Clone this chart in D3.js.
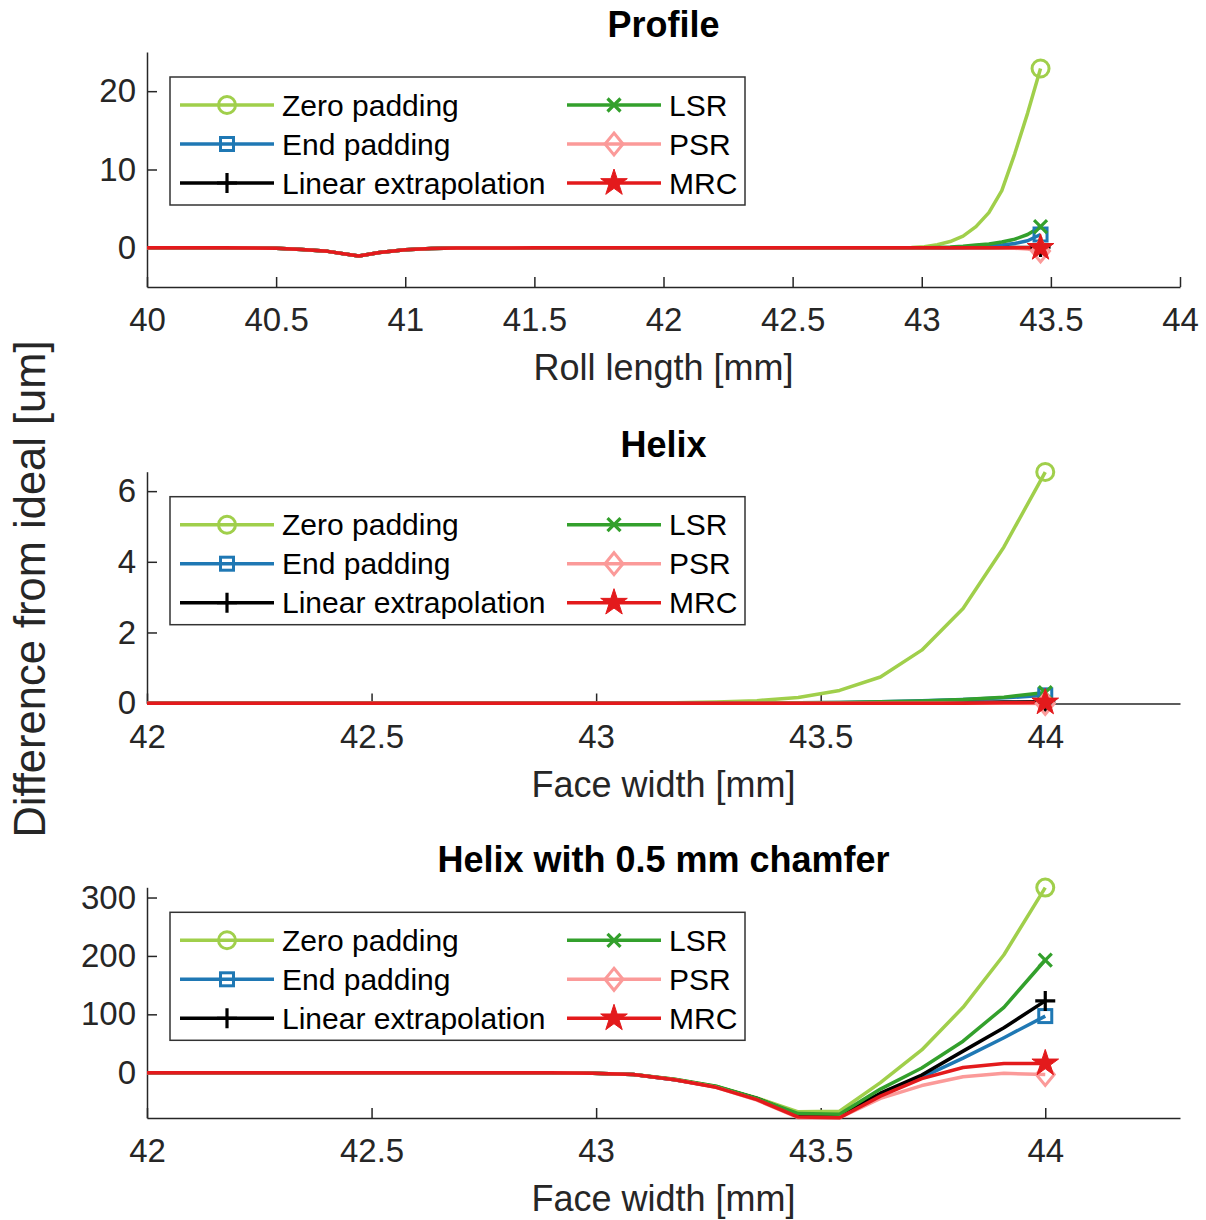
<!DOCTYPE html>
<html>
<head>
<meta charset="utf-8">
<script src="https://cdn.jsdelivr.net/npm/d3@7"></script>
<style>
  body { margin: 0; background: #fff; }
  svg { font-family: "Liberation Sans", Arial, Helvetica, sans-serif; }
</style>
</head>
<body>
<svg id="chart" width="1206" height="1220"></svg>
<script>
var seriesNames = ["Zero padding", "End padding", "Linear extrapolation", "LSR", "PSR", "MRC"];
var seriesColors = ["#a0cf4b", "#1f78b4", "#000000", "#33a02c", "#fb9a99", "#e31a1c"];
var seriesMarkers = ["circle", "square", "plus", "cross", "diamond", "star"];

// Profile, roll length [mm]
var profileX = [40, 40.3, 40.5, 40.6, 40.7, 40.82, 40.9, 41, 41.1, 41.2, 41.5, 42, 42.5,
  42.96, 43.01, 43.06, 43.11, 43.16, 43.21, 43.26, 43.31, 43.36, 43.41, 43.46];
var profileZero = [0, 0, -0.05, -0.2, -0.45, -1.05, -0.6, -0.25, -0.1, -0.02, 0, 0, 0,
  0.05, 0.15, 0.4, 0.8, 1.5, 2.7, 4.5, 7.3, 12.0, 17.2, 22.9];
var profileEnd = [0, 0, -0.05, -0.2, -0.45, -1.05, -0.6, -0.25, -0.1, -0.02, 0, 0, 0,
  0, 0, 0.01, 0.02, 0.05, 0.1, 0.2, 0.35, 0.55, 0.9, 1.7];
var profileLinear = [0, 0, -0.05, -0.2, -0.45, -1.05, -0.6, -0.25, -0.1, -0.02, 0, 0, 0,
  0, 0, 0, 0, 0, 0, 0.01, 0.02, 0.03, 0.05, 0.1];
var profileLSR = [0, 0, -0.05, -0.2, -0.45, -1.05, -0.6, -0.25, -0.1, -0.02, 0, 0, 0,
  0, 0.02, 0.05, 0.1, 0.2, 0.35, 0.5, 0.75, 1.1, 1.7, 2.7];
var profilePSR = [0, 0, -0.05, -0.2, -0.45, -1.05, -0.6, -0.25, -0.1, -0.02, 0, 0, 0,
  0, 0, 0, 0, 0, 0, 0, -0.02, -0.05, -0.15, -0.4];
var profileMRC = [0, 0, -0.05, -0.2, -0.45, -1.05, -0.6, -0.25, -0.1, -0.02, 0, 0, 0,
  0, 0, 0, 0, 0, 0, 0, 0, 0, 0, 0];

// Helix, face width [mm]
var helixX = [42, 42.5, 42.9, 42.992, 43.083, 43.175, 43.267, 43.358, 43.45, 43.542,
  43.633, 43.725, 43.817, 43.908, 44];
var helixZero = [0, 0, 0, 0, 0, 0.01, 0.03, 0.07, 0.16, 0.36, 0.74, 1.5, 2.68, 4.42, 6.54];
var helixEnd = [0, 0, 0, 0, 0, 0, 0, 0, 0.01, 0.02, 0.04, 0.07, 0.1, 0.15, 0.22];
var helixLinear = [0, 0, 0, 0, 0, 0, 0, 0, 0, 0, 0.01, 0.01, 0.02, 0.03, 0.04];
var helixLSR = [0, 0, 0, 0, 0, 0, 0, 0.01, 0.01, 0.02, 0.04, 0.06, 0.1, 0.17, 0.3];
var helixPSR = [0, 0, 0, 0, 0, 0, 0, 0, 0, 0, 0, 0, 0, 0, -0.01];
var helixMRC = [0, 0, 0, 0, 0, 0, 0, 0, 0, 0, 0, 0, 0, 0.01, 0.02];

// Helix with 0.5 mm chamfer, face width [mm]
var chamferX = [42, 42.5, 42.9, 42.992, 43.083, 43.175, 43.267, 43.358, 43.45, 43.542,
  43.633, 43.725, 43.817, 43.908, 44];
var chamferZero = [0, 0, 0, -1, -3, -11, -23, -43, -67, -66, -17, 39, 112, 202, 317];
var chamferEnd = [0, 0, 0, -1, -3, -12, -24, -44, -73, -73, -38, -8, 25, 60, 97];
var chamferLinear = [0, 0, 0, -1, -3, -12, -24, -44, -72, -73, -35, -4, 37, 77, 123];
var chamferLSR = [0, 0, 0, -1, -3, -11, -23, -44, -70, -71, -28, 8, 54, 112, 193];
var chamferPSR = [0, 0, 0, -1, -3, -12, -25, -47, -77, -77, -44, -22, -7, -1, -3];
var chamferMRC = [0, 0, 0, -1, -3, -12, -25, -46, -76, -77, -40, -10, 9, 16, 16];

// Tick labels
var profileTicksX = [40, 40.5, 41, 41.5, 42, 42.5, 43, 43.5, 44];
var profileTicksY = [0, 10, 20];
var helixTicksX = [42, 42.5, 43, 43.5, 44];
var helixTicksY = [0, 2, 4, 6];
var chamferTicksY = [0, 100, 200, 300];

var margin = { left: 147, right: 1180 };
var axisColor = "#262626";
var lineWidth = 3.5;

var panels = [
  { title: "Profile", xLabel: "Roll length [mm]", top: 52, bottom: 287,
    xDomain: [40, 44], yDomain: [-5, 25], xTicks: profileTicksX, yTicks: profileTicksY,
    x: profileX, series: [profileZero, profileEnd, profileLinear, profileLSR, profilePSR, profileMRC] },
  { title: "Helix", xLabel: "Face width [mm]", top: 471.7, bottom: 703.5,
    xDomain: [42, 44.3], yDomain: [-0.01, 6.55], xTicks: helixTicksX, yTicks: helixTicksY,
    x: helixX, series: [helixZero, helixEnd, helixLinear, helixLSR, helixPSR, helixMRC] },
  { title: "Helix with 0.5 mm chamfer", xLabel: "Face width [mm]", top: 887.3, bottom: 1118,
    xDomain: [42, 44.3], yDomain: [-77.5, 317.5], xTicks: helixTicksX, yTicks: chamferTicksY,
    x: chamferX, series: [chamferZero, chamferEnd, chamferLinear, chamferLSR, chamferPSR, chamferMRC] }
];

var svg = d3.select("#chart");

function starPath(r) {
  var pts = [];
  for (var i = 0; i < 10; i++) {
    var rr = i % 2 === 0 ? r : r * 0.382;
    var a = -Math.PI / 2 + i * Math.PI / 5;
    pts.push([rr * Math.cos(a), rr * Math.sin(a)]);
  }
  return "M" + pts.map(function (p) { return p[0].toFixed(2) + "," + p[1].toFixed(2); }).join("L") + "Z";
}

function drawMarker(g, type, color, cx, cy) {
  var m = g.append("g").attr("transform", "translate(" + cx + "," + cy + ")");
  if (type === "circle") {
    m.append("circle").attr("r", 8.5).attr("fill", "none").attr("stroke", color).attr("stroke-width", 3);
  } else if (type === "square") {
    m.append("rect").attr("x", -6.5).attr("y", -6.5).attr("width", 13).attr("height", 13)
      .attr("fill", "none").attr("stroke", color).attr("stroke-width", 3);
  } else if (type === "plus") {
    m.append("path").attr("d", "M-10,0H10M0,-10V10").attr("stroke", color).attr("stroke-width", 3.2);
  } else if (type === "cross") {
    m.append("path").attr("d", "M-6.5,-6.5L6.5,6.5M-6.5,6.5L6.5,-6.5").attr("stroke", color).attr("stroke-width", 3.2);
  } else if (type === "diamond") {
    m.append("path").attr("d", "M0,-11L9,0L0,11L-9,0Z").attr("fill", "none")
      .attr("stroke", color).attr("stroke-width", 3);
  } else if (type === "star") {
    m.append("path").attr("d", starPath(14)).attr("fill", color).attr("stroke", color).attr("stroke-width", 1);
  }
}

function drawPanel(p) {
  var x = d3.scaleLinear().domain(p.xDomain).range([margin.left, margin.right]);
  var y = d3.scaleLinear().domain(p.yDomain).range([p.bottom, p.top]);
  var g = svg.append("g");

  var xAxis = g.append("g")
    .attr("transform", "translate(0," + p.bottom + ")")
    .call(d3.axisBottom(x).tickValues(p.xTicks).tickFormat(function (d) { return d; })
      .tickSizeInner(-10).tickSizeOuter(0).tickPadding(21));
  var yAxis = g.append("g")
    .attr("transform", "translate(" + margin.left + ",0)")
    .call(d3.axisLeft(y).tickValues(p.yTicks).tickFormat(function (d) { return d; })
      .tickSizeInner(-10).tickSizeOuter(0).tickPadding(11));
  [xAxis, yAxis].forEach(function (a) {
    a.select(".domain").attr("stroke", axisColor).attr("stroke-width", 1.5);
    a.selectAll(".tick line").attr("stroke", axisColor).attr("stroke-width", 1.5);
    a.selectAll(".tick text").attr("fill", axisColor).style("font-size", "33px");
  });

  var line = d3.line()
    .x(function (d, i) { return x(p.x[i]); })
    .y(function (d) { return y(d); });

  p.series.forEach(function (s, k) {
    g.append("path")
      .attr("d", line(s))
      .attr("fill", "none")
      .attr("stroke", seriesColors[k])
      .attr("stroke-width", lineWidth)
      .attr("stroke-linejoin", "round");
  });
  p.series.forEach(function (s, k) {
    var n = s.length - 1;
    drawMarker(g, seriesMarkers[k], seriesColors[k], x(p.x[n]), y(s[n]));
  });

  // title and x label
  g.append("text")
    .attr("x", (margin.left + margin.right) / 2).attr("y", p.top - 15)
    .attr("text-anchor", "middle").style("font-size", "36px").style("font-weight", "bold")
    .attr("fill", "#000").text(p.title);
  g.append("text")
    .attr("x", (margin.left + margin.right) / 2).attr("y", p.bottom + 93)
    .attr("text-anchor", "middle").style("font-size", "36px")
    .attr("fill", axisColor).text(p.xLabel);

  // legend, two columns
  var lx = margin.left + 23, ly = p.top + 25;
  var lg = g.append("g").attr("transform", "translate(" + lx + "," + ly + ")");
  lg.append("rect").attr("width", 575).attr("height", 128)
    .attr("fill", "#fff").attr("stroke", "#333").attr("stroke-width", 1.5);
  seriesNames.forEach(function (name, k) {
    var col = Math.floor(k / 3), row = k % 3;
    var ox = col === 0 ? 10 : 397;
    var oy = 28 + row * 39;
    lg.append("line").attr("x1", ox).attr("x2", ox + 94).attr("y1", oy).attr("y2", oy)
      .attr("stroke", seriesColors[k]).attr("stroke-width", lineWidth);
    drawMarker(lg, seriesMarkers[k], seriesColors[k], ox + 47, oy);
    lg.append("text").attr("x", ox + 102).attr("y", oy).attr("dy", "0.35em")
      .style("font-size", "30px").attr("fill", "#000").text(name);
  });
}

panels.forEach(drawPanel);

svg.append("text")
  .attr("transform", "translate(30,589) rotate(-90)")
  .attr("text-anchor", "middle").attr("dy", "0.35em")
  .style("font-size", "43.5px").attr("fill", axisColor)
  .text("Difference from ideal [um]");
</script>
</body>
</html>
